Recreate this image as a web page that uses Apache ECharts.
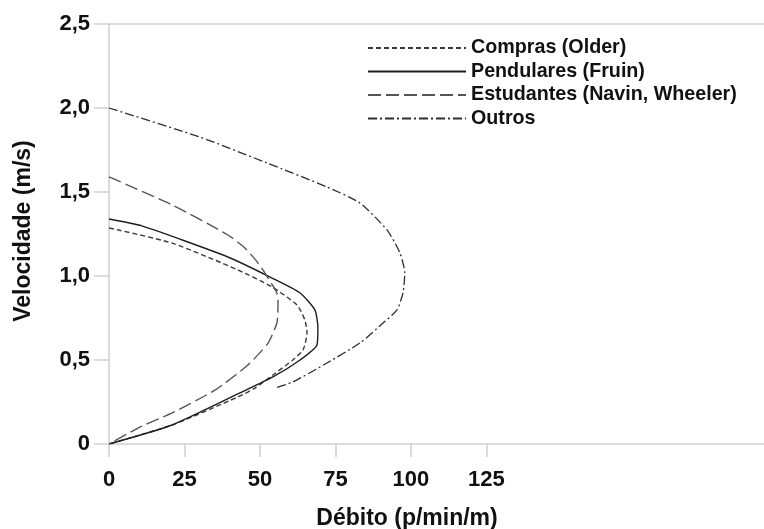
<!DOCTYPE html>
<html>
<head>
<meta charset="utf-8">
<script src="https://cdn.jsdelivr.net/npm/echarts@6/dist/echarts.min.js"></script>
<style>
html,body{margin:0;padding:0;background:#fff;}
#chart{width:764px;height:529px;}
</style>
</head>
<body>
<div id="chart"></div>
<script>
// Débito (p/min/m) and Velocidade (m/s)
var seriesNames = ['Compras (Older)', 'Pendulares (Fruin)', 'Estudantes (Navin, Wheeler)', 'Outros'];

var comprasX = [0, 20.9, 42.7, 54.0, 62.3, 64.9, 65.6, 64.3, 60.9, 54.3, 48.4, 42.7, 20.9, 0];
var comprasY = [1.286, 1.196, 1.036, 0.935, 0.827, 0.738, 0.661, 0.560, 0.50, 0.411, 0.333, 0.280, 0.113, 0];

var pendularesX = [0, 10.9, 39.4, 54.0, 63.3, 68.2, 69.2, 68.9, 63.3, 54.3, 43.4, 20.9, 0];
var pendularesY = [1.339, 1.298, 1.113, 0.988, 0.899, 0.798, 0.696, 0.589, 0.50, 0.399, 0.304, 0.113, 0];

var estudantesX = [0, 20.9, 39.4, 45.0, 49.4, 52.7, 55.6, 56.0, 55.6, 52.7, 46.0, 35.1, 20.9, 9.6, 0];
var estudantesY = [1.59, 1.423, 1.244, 1.167, 1.077, 0.988, 0.899, 0.839, 0.720, 0.601, 0.470, 0.321, 0.185, 0.095, 0];

var outrosX = [0, 30.1, 52.3, 72.2, 83.1, 92.1, 96.4, 98.0, 97.4, 95.4, 90.8, 83.1, 72.2, 60.9, 55.0];
var outrosY = [2.0, 1.827, 1.673, 1.53, 1.435, 1.274, 1.137, 1.018, 0.899, 0.798, 0.720, 0.601, 0.482, 0.369, 0.333];

var xTickValues = [0, 25, 50, 75, 100, 125];
var yTickLabels = ['0', '0,5', '1,0', '1,5', '2,0', '2,5'];

function pairs(xs, ys) {
  return xs.map(function (x, i) { return [x, ys[i]]; });
}

var axisGray = '#cfcfcf';
var font = '"Liberation Sans", Arial, Helvetica, sans-serif';

var styles = [
  { color: '#3a3a3a', width: 1.4, type: [5, 3] },
  { color: '#1e1e1e', width: 1.4, type: 'solid' },
  { color: '#555555', width: 1.4, type: [13, 5] },
  { color: '#2e2e2e', width: 1.3, type: [9, 3, 2, 3] }
];
var datas = [
  pairs(comprasX, comprasY),
  pairs(pendularesX, pendularesY),
  pairs(estudantesX, estudantesY),
  pairs(outrosX, outrosY)
];

var chart = echarts.init(document.getElementById('chart'), null, { renderer: 'canvas' });
chart.setOption({
  animation: false,
  backgroundColor: '#fff',
  grid: { left: 109, right: 0, top: 24, bottom: 85, containLabel: false },
  legend: {
    orient: 'vertical',
    left: 362,
    top: 33,
    itemWidth: 98,
    itemHeight: 6,
    itemGap: 3.5,
    itemTextGap: 14,
    data: seriesNames,
    itemStyle: { color: 'rgba(0,0,0,0)', borderWidth: 0, opacity: 0 },
    textStyle: { fontFamily: font, fontWeight: 'bold', fontSize: 19.7, color: '#111', lineHeight: 20 }
  },
  xAxis: [{
    type: 'value',
    min: 0,
    max: 217,
    position: 'bottom',
    axisLine: { show: true, lineStyle: { color: axisGray, width: 1.5 } },
    axisTick: { show: true, length: 13, customValues: xTickValues, lineStyle: { color: axisGray, width: 1.5 } },
    axisLabel: {
      customValues: xTickValues,
      margin: 25,
      fontFamily: font, fontWeight: 'bold', fontSize: 22, color: '#111'
    },
    splitLine: { show: false }
  }, {
    type: 'value',
    min: 0,
    max: 217,
    position: 'top',
    axisLine: { show: true, lineStyle: { color: axisGray, width: 1.5 } },
    axisTick: { show: false },
    axisLabel: { show: false },
    splitLine: { show: false }
  }],
  yAxis: {
    type: 'value',
    min: 0,
    max: 2.5,
    interval: 0.5,
    axisLine: { show: true, lineStyle: { color: axisGray, width: 1.5 } },
    axisTick: { show: true, length: 15, lineStyle: { color: axisGray, width: 1.5 } },
    axisLabel: {
      margin: 19,
      fontFamily: font, fontWeight: 'bold', fontSize: 22, color: '#111',
      formatter: function (v) { return yTickLabels[Math.round(v / 0.5)]; }
    },
    splitLine: { show: false }
  },
  graphic: [
    {
      type: 'text', x: 24, y: 231, rotation: Math.PI / 2,
      style: { text: 'Velocidade (m/s)', font: 'bold 23px ' + font, fill: '#111', align: 'center', verticalAlign: 'middle' }
    },
    {
      type: 'text', x: 407, y: 519,
      style: { text: 'Débito (p/min/m)', font: 'bold 23px ' + font, fill: '#111', align: 'center', verticalAlign: 'middle' }
    }
  ],
  series: seriesNames.map(function (name, i) {
    return {
      name: name,
      type: 'line',
      data: datas[i],
      showSymbol: false,
      symbol: 'none',
      smooth: 0.2,
      color: styles[i].color,
      lineStyle: { color: styles[i].color, width: styles[i].width, type: styles[i].type }
    };
  })
});
</script>
</body>
</html>
